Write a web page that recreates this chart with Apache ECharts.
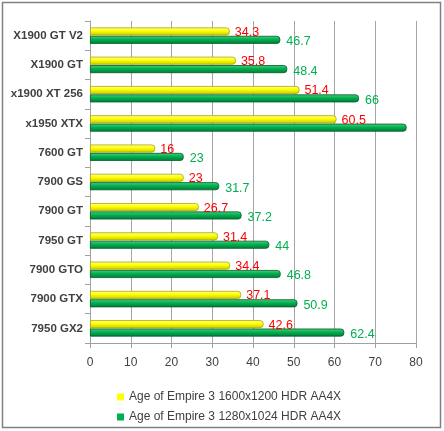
<!DOCTYPE html>
<html><head><meta charset="utf-8">
<script src="https://cdn.jsdelivr.net/npm/echarts@6/dist/echarts.min.js"></script>
<style>html,body{margin:0;padding:0;background:#fff}#c{width:444px;height:431px}</style>
</head><body><div id="c"></div>
<script>
const categories = ['X1900 GT V2','X1900 GT','x1900 XT 256','x1950 XTX','7600 GT','7900 GS','7900 GT','7950 GT','7900 GTO','7900 GTX','7950 GX2'];
const seriesNames = ['Age of Empire 3 1600x1200 HDR AA4X','Age of Empire 3 1280x1024 HDR AA4X'];
const yellowValues = [34.3,35.8,51.4,60.5,16,23,26.7,31.4,34.4,37.1,42.6];
const greenValues = [46.7,48.4,66,77.7,23,31.7,37.2,44,46.8,50.9,62.4];
const xTicks = [0,10,20,30,40,50,60,70,80];

const chart = echarts.init(document.getElementById('c'), null, {renderer:'canvas'});
const font = "'Liberation Sans', Arial, sans-serif";
function grad(top, mid, bot){
  return new echarts.graphic.LinearGradient(0,0,0,1,[{offset:0,color:top},{offset:0.45,color:mid},{offset:1,color:bot}]);
}
chart.setOption({
  backgroundColor:'#fff',
  animation:false,
  graphic:[{type:'rect',shape:{x:2.5,y:2.5,width:438,height:425},style:{fill:'none',stroke:'#808080',lineWidth:1.5}}],
  grid:{left:90,right:28,top:21,bottom:88},
  legend:{
    orient:'vertical',left:112,top:386,itemWidth:7,itemHeight:7,itemGap:8,
    icon:'rect',
    textStyle:{color:'#404040',fontSize:12,fontFamily:font},
    data:[{name:seriesNames[0],itemStyle:{color:'#ffff00',borderWidth:0}},{name:seriesNames[1],itemStyle:{color:'#00b050',borderWidth:0}}]
  },
  xAxis:{
    type:'value',min:xTicks[0],max:xTicks[xTicks.length-1],interval:10,
    axisLine:{show:true,lineStyle:{color:'#a0a0a0'}},
    axisTick:{show:true,length:5,lineStyle:{color:'#a0a0a0'}},
    splitLine:{show:true,lineStyle:{color:'#a6a6a6'}},
    axisLabel:{color:'#404040',fontSize:12,fontFamily:font,margin:14}
  },
  yAxis:{
    type:'category',inverse:true,data:categories,
    axisLine:{show:true,lineStyle:{color:'#a0a0a0'}},
    axisTick:{show:true,length:5,lineStyle:{color:'#a0a0a0'}},
    axisLabel:{color:'#404040',fontSize:11.5,fontWeight:'bold',fontFamily:font,margin:7}
  },
  series:[
    {name:seriesNames[0],type:'bar',data:yellowValues,barWidth:8,barGap:'5%',
     itemStyle:{color:grad('#ffffa0','#ffff00','#c8c800'),borderColor:'#a8a800',borderWidth:0.8,borderRadius:[0,3,3,0]},
     label:{show:true,position:'right',distance:5,offset:[0,1],color:'#ff0000',fontSize:12.5,fontFamily:font}},
    {name:seriesNames[1],type:'bar',data:greenValues,barWidth:8,
     itemStyle:{color:grad('#4fd080','#00b050','#007a35'),borderColor:'#005a28',borderWidth:0.8,borderRadius:[0,3,3,0]},
     label:{show:true,position:'right',distance:6,offset:[0,2],color:'#00b050',fontSize:12.5,fontFamily:font,
       formatter:function(p){return p.dataIndex===3?'':p.value;}}}
  ]
});
</script></body></html>
